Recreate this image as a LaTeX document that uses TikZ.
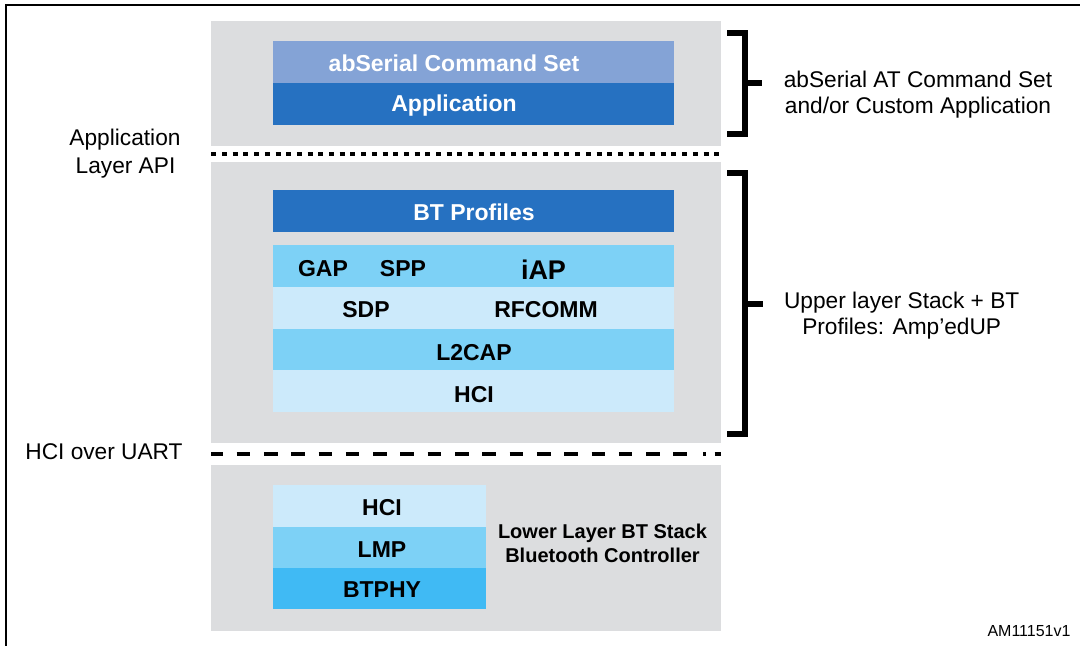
\documentclass[tikz,border=0pt]{standalone}
\usepackage{fontspec}
\setmainfont{Liberation Sans}
\definecolor{panelgray}{HTML}{DCDDDF}
\definecolor{serialblue}{HTML}{84A3D6}
\definecolor{darkblue}{HTML}{2671C1}
\definecolor{midblue}{HTML}{7DD1F6}
\definecolor{paleblue}{HTML}{CCEAFB}
\definecolor{phyblue}{HTML}{40BAF4}
\begin{document}
\begin{tikzpicture}[x=1pt,y=-1pt,
  panel/.style={fill=panelgray,draw=none,anchor=north west,inner sep=0pt,outer sep=0pt,minimum width=510pt},
  layerbox/.style={draw=none,anchor=north west,inner sep=0pt,outer sep=0pt,minimum width=401pt,minimum height=42pt},
  lowbox/.style={draw=none,anchor=north west,inner sep=0pt,outer sep=0pt,minimum width=213pt,minimum height=41pt},
  boldlbl/.style={font=\fontsize{23}{27}\selectfont\bfseries,anchor=base,inner sep=0pt},
  whitelbl/.style={boldlbl,text=white},
  plainlbl/.style={font=\fontsize{22.7}{26}\selectfont,anchor=base,inner sep=0pt},
  bracketline/.style={line width=6pt,line join=miter},
  frameline/.style={line width=2.5pt}]
\useasboundingbox (0,0) rectangle (1080,646);
% frame
\coordinate (ftl) at (6,5);
\coordinate (ftr) at (1080,5);
\coordinate (fbl) at (6,646);
\draw[frameline] (ftr) -- (ftl) -- (fbl);
% panels
\node[panel,minimum height=125pt] (p1) at (211,21) {};
\node[panel,minimum height=281pt] (p2) at (211,162) {};
\node[panel,minimum height=166pt] (p3) at (211,465) {};
% top stack
\node[layerbox,fill=serialblue,minimum height=42pt] (ser) at (273,41) {};
\node[layerbox,fill=darkblue,minimum height=42pt] (app) at (273,83) {};
\node[whitelbl] (serT) at (454,71) {abSerial Command Set};
\node[whitelbl] (appT) at (454,111) {Application};
% middle stack
\node[layerbox,fill=darkblue] (btp) at (273,190) {};
\node[whitelbl] (btpT) at (474,220) {BT Profiles};
\node[layerbox,fill=midblue] (r1) at (273,245) {};
\node[layerbox,fill=paleblue] (r2) at (273,287) {};
\node[layerbox,fill=midblue,minimum height=41pt] (r3) at (273,329) {};
\node[layerbox,fill=paleblue] (r4) at (273,370) {};
\node[boldlbl] (gap) at (323,276) {GAP};
\node[boldlbl] (spp) at (403,276) {SPP};
\node[boldlbl,font=\fontsize{27}{30}\selectfont\bfseries] (iap) at (543.5,279) {iAP};
\node[boldlbl] (sdp) at (366,317) {SDP};
\node[boldlbl] (rfc) at (546,317) {RFCOMM};
\node[boldlbl] (l2c) at (474,360) {L2CAP};
\node[boldlbl] (hciU) at (474,402) {HCI};
% lower stack
\node[lowbox,fill=paleblue,minimum height=42pt] (lh) at (273,485) {};
\node[lowbox,fill=midblue] (lm) at (273,527) {};
\node[lowbox,fill=phyblue] (lp) at (273,568) {};
\node[boldlbl] (hciL) at (382,515) {HCI};
\node[boldlbl] (lmp) at (382,557) {LMP};
\node[boldlbl] (phy) at (382,597) {BTPHY};
\node[boldlbl,font=\fontsize{20}{24}\selectfont\bfseries] (ll1) at (602.5,538) {Lower Layer BT Stack};
\node[boldlbl,font=\fontsize{20}{24}\selectfont\bfseries] (ll2) at (602.5,562) {Bluetooth Controller};
% separators
\coordinate (d1a) at (211,154);
\coordinate (d1b) at (721,154);
\draw[line width=3.5pt,dash pattern=on 5pt off 5.7pt,dash phase=10.4pt] (d1a) -- (d1b);
\coordinate (d2a) at (211,454);
\coordinate (d2b) at (688,454);
\coordinate (d2c) at (703,454);
\coordinate (d2d) at (706,454);
\coordinate (d2e) at (714.5,454);
\coordinate (d2f) at (721,454);
\draw[line width=3.5pt,dash pattern=on 13.6pt off 13.7pt,dash phase=1.7pt] (d2a) -- (d2b);
\draw[line width=3.5pt] (d2c) -- (d2d) (d2e) -- (d2f);
% left labels
\node[plainlbl] (al1) at (125,145.7) {Application};
\node[plainlbl] (al2) at (125.5,173.3) {Layer API};
\node[plainlbl] (hou) at (104,459.3) {HCI over UART};
% brackets
\coordinate (b1t) at (727,32.5);
\coordinate (b1tr) at (745,32.5);
\coordinate (b1br) at (745,133.5);
\coordinate (b1b) at (727,133.5);
\coordinate (b1m) at (745,83);
\coordinate (b1k) at (762,83);
\draw[bracketline] (b1t) -- (b1tr) -- (b1br) -- (b1b);
\draw[bracketline] (b1m) -- (b1k);
\coordinate (b2t) at (727,173);
\coordinate (b2tr) at (745,173);
\coordinate (b2br) at (745,434);
\coordinate (b2b) at (727,434);
\coordinate (b2m) at (745,303.5);
\coordinate (b2k) at (763,303.5);
\draw[bracketline] (b2t) -- (b2tr) -- (b2br) -- (b2b);
\draw[bracketline] (b2m) -- (b2k);
% right labels
\node[plainlbl] (rt1) at (918,87.3) {abSerial AT Command Set};
\node[plainlbl] (rt2) at (918,113) {and/or Custom Application};
\node[plainlbl] (rm1) at (901.7,308.3) {Upper layer Stack + BT};
\node[plainlbl] (rm2) at (901.7,334.3) {Profiles: Amp’edUP};
\node[plainlbl,font=\fontsize{16}{19}\selectfont] (am) at (1029,636.7) {AM11151v1};
\end{tikzpicture}
\end{document}
